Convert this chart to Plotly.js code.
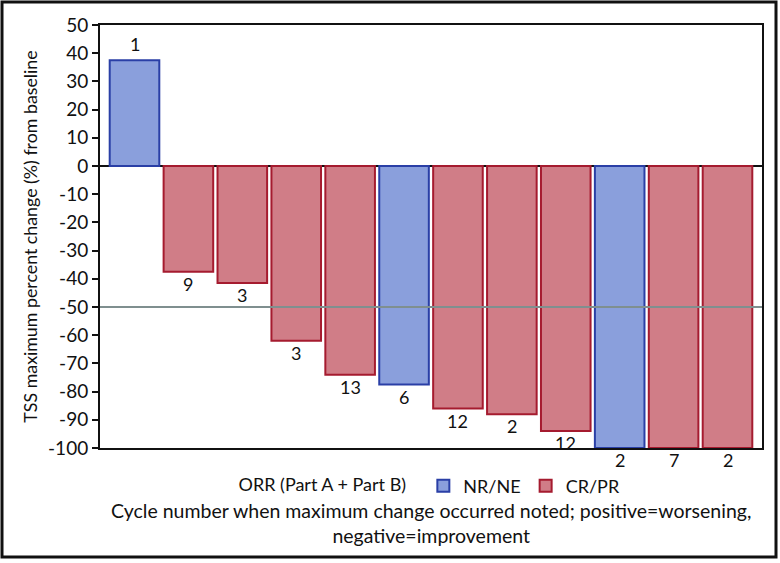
<!DOCTYPE html>
<html>
<head>
<meta charset="utf-8">
<script src="https://cdn.plot.ly/plotly-3.0.1.min.js"></script>
<style>html,body{margin:0;padding:0;background:#fff;}#chart{width:780px;height:563px;}</style>
</head>
<body>
<div id="chart"></div>
<script>
// Data
const patients = [1, 2, 3, 4, 5, 6, 7, 8, 9, 10, 11, 12];
const maxChange = [37.5, -37.5, -41.5, -62, -74, -77.5, -86, -88, -94, -100, -100, -100];
const cycleLabels = ['1', '9', '3', '3', '13', '6', '12', '2', '12', '2', '7', '2'];
const response = ['NR/NE', 'CR/PR', 'CR/PR', 'CR/PR', 'CR/PR', 'NR/NE', 'CR/PR', 'CR/PR', 'CR/PR', 'NR/NE', 'CR/PR', 'CR/PR'];
const groups = ['NR/NE', 'CR/PR'];
const yTicks = [50, 40, 30, 20, 10, 0, -10, -20, -30, -40, -50, -60, -70, -80, -90, -100];
const refLine = -50;

const styles = {
  'NR/NE': {fill: '#8a9fdc', line: '#2a3fa6'},
  'CR/PR': {fill: '#d07d87', line: '#a51b2f'}
};
const FONT = 'Lato, "Open Sans", sans-serif';

const traces = groups.map(g => {
  const idx = patients.map((p, i) => i).filter(i => response[i] === g);
  return {
    type: 'bar',
    name: g,
    x: idx.map(i => patients[i]),
    y: idx.map(i => maxChange[i]),
    width: 0.92,
    marker: {color: styles[g].fill, line: {color: styles[g].line, width: 2}},
    hoverinfo: 'x+y'
  };
});

const annotations = patients.map((p, i) => ({
  x: p, y: maxChange[i], xref: 'x', yref: 'y',
  text: cycleLabels[i], showarrow: false,
  yanchor: maxChange[i] >= 0 ? 'bottom' : 'top',
  yshift: maxChange[i] >= 0 ? 3 : 1,
  font: {family: FONT, size: 18, color: '#111'}
}));
annotations.push({
  xref: 'paper', yref: 'paper', x: 0.5, y: (448 - 497) / 423, yanchor: 'top',
  showarrow: false, align: 'center',
  text: 'Cycle number when maximum change occurred noted; positive=worsening,<br>negative=improvement',
  font: {family: FONT, size: 19.5, color: '#111'}
});

const layout = {
  width: 780, height: 563,
  margin: {l: 100, r: 18, t: 25, b: 115},
  paper_bgcolor: '#fff', plot_bgcolor: '#fff',
  barmode: 'overlay',
  font: {family: FONT, size: 18, color: '#111'},
  xaxis: {
    range: [0.36, 12.64], showticklabels: false, ticks: '',
    showgrid: false, zeroline: false,
    showline: true, mirror: true, linecolor: '#111', linewidth: 2
  },
  yaxis: {
    range: [-100, 50], tickvals: yTicks, ticktext: yTicks.map(String),
    ticks: 'outside', ticklen: 6, tickwidth: 2, tickcolor: '#111',
    showgrid: false, zeroline: true, zerolinecolor: '#111', zerolinewidth: 2,
    showline: true, mirror: true, linecolor: '#111', linewidth: 2,
    tickfont: {family: FONT, size: 19, color: '#111'},
    title: {text: 'TSS maximum percent change (%) from baseline', standoff: 6,
            font: {family: FONT, size: 17.8, color: '#111'}}
  },
  showlegend: true,
  legend: {
    orientation: 'h', x: 0.5, xanchor: 'center', y: -0.09, yanchor: 'middle',
    title: {text: 'ORR (Part A + Part B)  ', side: 'left', font: {family: FONT, size: 18, color: '#111'}},
    font: {family: FONT, size: 18, color: '#111'},
    traceorder: 'normal', itemwidth: 30
  },
  shapes: [
    {type: 'line', xref: 'paper', yref: 'y', x0: 0, x1: 1, y0: refLine, y1: refLine,
     line: {color: '#7f8f8f', width: 2}},
    {type: 'rect', xref: 'paper', yref: 'paper',
     x0: (2 - 100) / 662, x1: (776 - 100) / 662,
     y0: (448 - 557) / 423, y1: (448 - 2) / 423,
     line: {color: '#111', width: 3}, fillcolor: 'rgba(0,0,0,0)'}
  ],
  annotations: annotations
};

Plotly.newPlot('chart', traces, layout, {displayModeBar: false, staticPlot: true});
</script>
</body>
</html>
